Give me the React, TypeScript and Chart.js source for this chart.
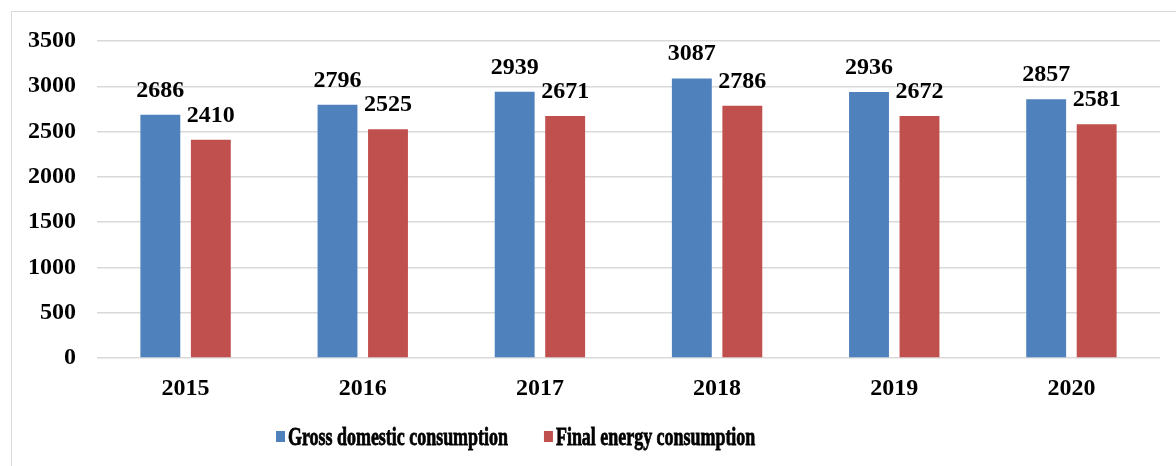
import React, { useEffect, useRef } from "react";
import { Chart, registerables } from "chart.js";

Chart.register(...registerables);

const years = ["2015", "2016", "2017", "2018", "2019", "2020"];
const grossDomestic = [2686, 2796, 2939, 3087, 2936, 2857];
const finalEnergy = [2410, 2525, 2671, 2786, 2672, 2581];
const seriesNames = ["Gross domestic consumption", "Final energy consumption"];
const seriesColors = ["#4f81bd", "#c0504d"];

const FONT_FAMILY = "'Liberation Serif', 'Times New Roman', serif";

const valueLabels = {
  id: "valueLabels",
  afterDatasetsDraw(chart: any) {
    const ctx = chart.ctx;
    ctx.save();
    ctx.font = `bold 24px ${FONT_FAMILY}`;
    ctx.fillStyle = "#000";
    ctx.textAlign = "center";
    ctx.textBaseline = "alphabetic";
    chart.data.datasets.forEach((ds: any, i: number) => {
      const meta = chart.getDatasetMeta(i);
      meta.data.forEach((bar: any, j: number) => {
        ctx.fillText(String(ds.data[j]), bar.x, bar.y - 18);
      });
    });
    ctx.restore();
  },
};

const condensedLegend = {
  id: "condensedLegend",
  afterDraw(chart: any) {
    const ctx = chart.ctx;
    ctx.save();
    ctx.font = `bold 26px ${FONT_FAMILY}`;
    ctx.textBaseline = "alphabetic";
    ctx.textAlign = "left";
    const sx = 0.69;
    let x = 276;
    const y = 437;
    chart.data.datasets.forEach((ds: any) => {
      ctx.fillStyle = ds.backgroundColor;
      ctx.fillRect(x, y - 6, 9, 11);
      const tx = x + 12;
      ctx.fillStyle = "#000";
      ctx.strokeStyle = "#000";
      ctx.lineWidth = 0.8;
      ctx.save();
      ctx.translate(tx, y);
      ctx.scale(sx, 1);
      ctx.fillText(ds.label, 0, 8);
      ctx.strokeText(ds.label, 0, 8);
      ctx.restore();
      const w = ctx.measureText(ds.label).width * sx;
      x = tx + w + 36;
    });
    ctx.restore();
  },
};

export default function App() {
  const ref = useRef<HTMLCanvasElement | null>(null);

  useEffect(() => {
    document.body.style.margin = "0";
    if (!ref.current) return;
    const chart = new Chart(ref.current, {
      type: "bar",
      data: {
        labels: years,
        datasets: [
          {
            label: seriesNames[0],
            data: grossDomestic,
            backgroundColor: seriesColors[0],
            categoryPercentage: 0.57,
            barPercentage: 0.79,
          },
          {
            label: seriesNames[1],
            data: finalEnergy,
            backgroundColor: seriesColors[1],
            categoryPercentage: 0.57,
            barPercentage: 0.79,
          },
        ],
      },
      options: {
        responsive: false,
        animation: false,
        layout: { padding: { left: 0, top: 41, right: 16, bottom: 0 } },
        plugins: {
          legend: { display: false },
          tooltip: { enabled: false },
        },
        scales: {
          y: {
            min: 0,
            max: 3500,
            ticks: {
              stepSize: 500,
              color: "#000",
              padding: 21,
              font: { family: FONT_FAMILY, size: 24, weight: "bold" },
              callback: (v: any) => String(v),
            },
            grid: { color: "#d9d9d9", lineWidth: 1.5, drawTicks: false },
            border: { display: false },
            afterFit: (s: any) => {
              s.width = 97;
            },
          },
          x: {
            ticks: {
              color: "#000",
              padding: 16,
              font: { family: FONT_FAMILY, size: 24, weight: "bold" },
            },
            grid: { display: false, drawTicks: false },
            border: { display: false },
            afterFit: (s: any) => {
              s.height = 108;
            },
          },
        },
      },
      plugins: [valueLabels, condensedLegend],
    });
    return () => chart.destroy();
  }, []);

  return (
    <div style={{ position: "fixed", left: 0, top: 0, width: 1176, height: 466, background: "#fff", overflow: "hidden" }}>
      <div
        style={{
          position: "absolute",
          left: 11,
          top: 11,
          width: 1180,
          height: 470,
          border: "1px solid #d9d9d9",
          boxSizing: "border-box",
        }}
      />
      <canvas ref={ref} width={1176} height={466} style={{ position: "absolute", left: 0, top: 0 }} />
    </div>
  );
}
